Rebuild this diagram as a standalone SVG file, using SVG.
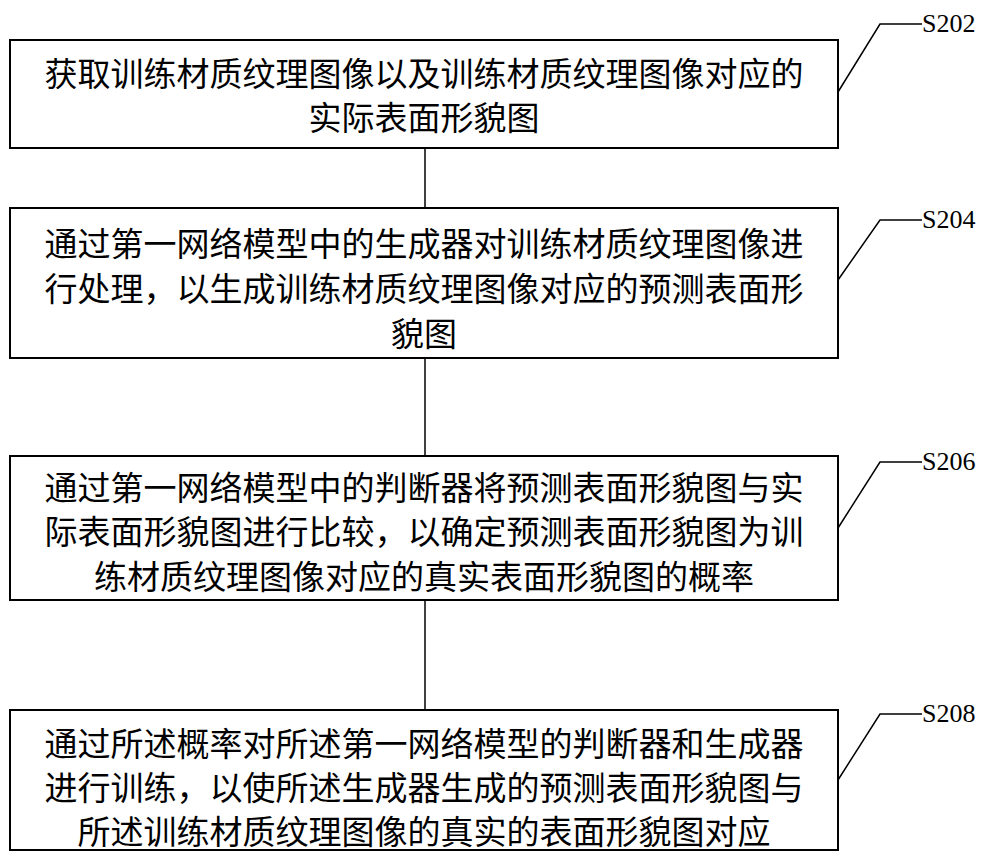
<svg xmlns="http://www.w3.org/2000/svg" width="1000" height="859" viewBox="0 0 1000 859">
<style>
.box{fill:#fff;stroke:#000;stroke-width:2}
.t{font-family:"Liberation Serif","Noto Sans CJK SC",serif;font-size:33px;text-anchor:middle;fill:#000}
.l{font-family:"Liberation Serif",serif;font-size:26px;fill:#000}
.c{stroke:#000;stroke-width:1.5;fill:none}
</style>
<rect width="1000" height="859" fill="#fff"/>
<g id="connectors">
<line class="c" x1="425" y1="148" x2="425" y2="208"/>
<line class="c" x1="425" y1="358" x2="425" y2="456"/>
<line class="c" x1="425" y1="600" x2="425" y2="710"/>
<polyline class="c" points="838,92 880,24 922,24"/>
<polyline class="c" points="838,280 880,220 922,220"/>
<polyline class="c" points="838,528 880,462 922,462"/>
<polyline class="c" points="838,780 880,714 922,714"/>
</g>
<g id="n1"><rect class="box" x="10" y="40" width="828" height="108"/>
<text class="t" x="424" y="86">获取训练材质纹理图像以及训练材质纹理图像对应的</text>
<text class="t" x="424" y="130">实际表面形貌图</text></g>
<g id="n2"><rect class="box" x="10" y="208" width="828" height="150"/>
<text class="t" x="424" y="256">通过第一网络模型中的生成器对训练材质纹理图像进</text>
<text class="t" x="424" y="301">行处理，以生成训练材质纹理图像对应的预测表面形</text>
<text class="t" x="424" y="346">貌图</text></g>
<g id="n3"><rect class="box" x="10" y="456" width="828" height="144"/>
<text class="t" x="424" y="500">通过第一网络模型中的判断器将预测表面形貌图与实</text>
<text class="t" x="424" y="544">际表面形貌图进行比较，以确定预测表面形貌图为训</text>
<text class="t" x="424" y="589">练材质纹理图像对应的真实表面形貌图的概率</text></g>
<g id="n4"><rect class="box" x="10" y="710" width="828" height="140"/>
<text class="t" x="424" y="756">通过所述概率对所述第一网络模型的判断器和生成器</text>
<text class="t" x="424" y="800">进行训练，以使所述生成器生成的预测表面形貌图与</text>
<text class="t" x="424" y="844">所述训练材质纹理图像的真实的表面形貌图对应</text></g>
<g id="labels">
<text class="l" x="922" y="32">S202</text>
<text class="l" x="922" y="228">S204</text>
<text class="l" x="922" y="470">S206</text>
<text class="l" x="922" y="722">S208</text>
</g>
</svg>
